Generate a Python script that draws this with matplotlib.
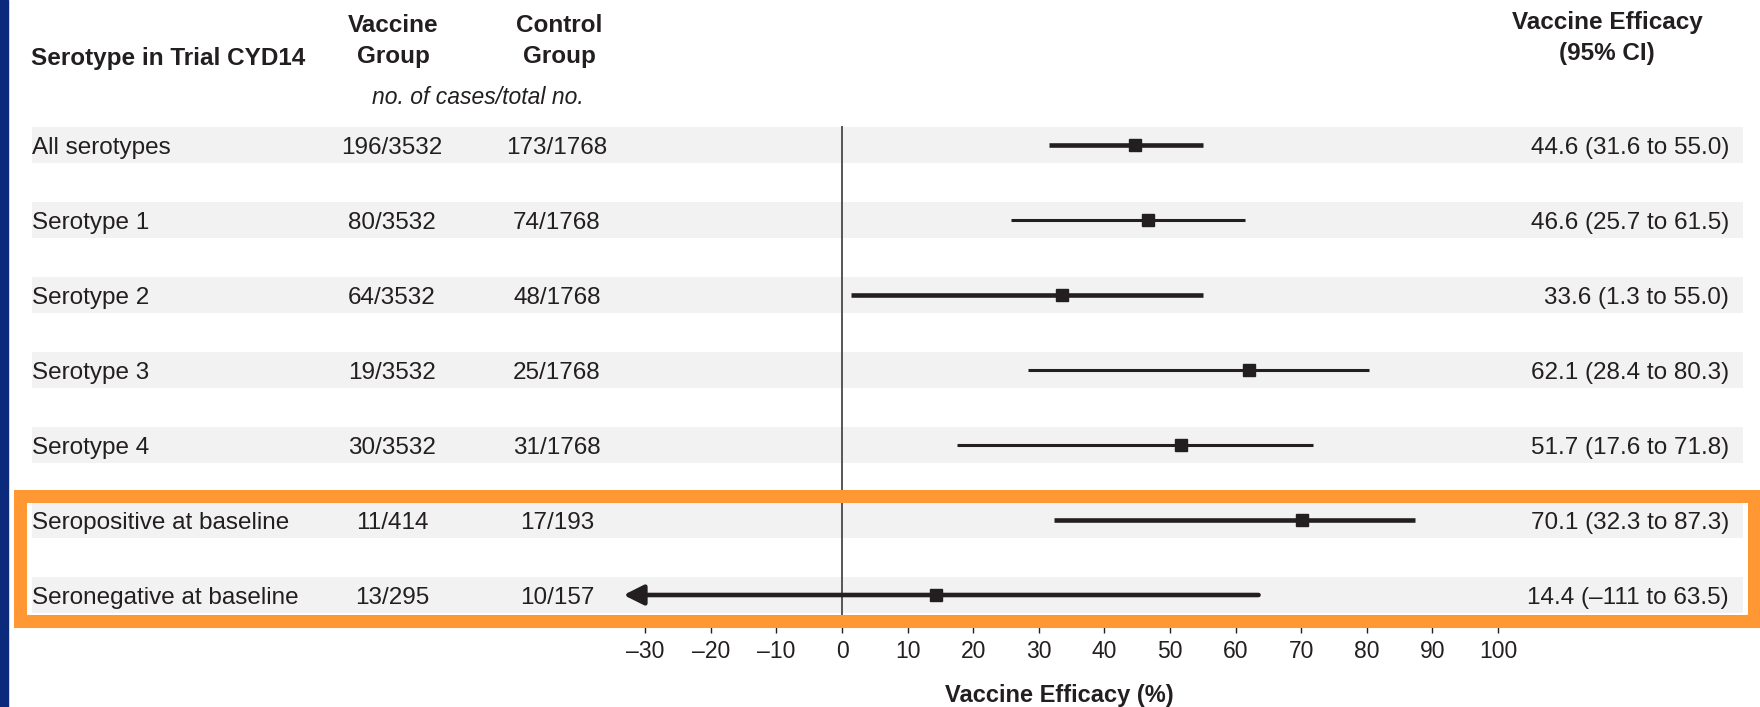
import numpy as np
import matplotlib
matplotlib.use("Agg")
import matplotlib.pyplot as plt
from matplotlib.patches import Rectangle
from matplotlib.transforms import blended_transform_factory
from matplotlib.ticker import FuncFormatter

plt.rcParams['font.family'] = ['Liberation Sans', 'DejaVu Sans']

# data
labels = ["All serotypes", "Serotype 1", "Serotype 2", "Serotype 3", "Serotype 4",
          "Seropositive at baseline", "Seronegative at baseline"]
vaccine_cases = ["196/3532", "80/3532", "64/3532", "19/3532", "30/3532", "11/414", "13/295"]
control_cases = ["173/1768", "74/1768", "48/1768", "25/1768", "31/1768", "17/193", "10/157"]
efficacy = [44.6, 46.6, 33.6, 62.1, 51.7, 70.1, 14.4]
ci_low = [31.6, 25.7, 1.3, 28.4, 17.6, 32.3, -111]
ci_high = [55.0, 61.5, 55.0, 80.3, 71.8, 87.3, 63.5]
ticks = list(range(-30, 101, 10))

# styling
ink = '#231f20'
band = '#f2f2f2'
orange = '#ff9832'
navy = '#0b2a7c'
thick = [True, False, True, False, False, True, True]
W, H = 1760, 707
X_MIN, X_MAX = -37, 103.4
ARROW_TIP = -33.3
FS = 17.5
TXT_DY = 0.045  # nudge row text down a little so it sits mid-band


def fx(x):
    return x / W


def fy(y):
    return 1 - y / H


def fmt(v):
    s = f"{v:.1f}" if abs(v) < 100 else f"{v:.0f}"
    return s.replace("-", "\u2013")


fig = plt.figure(figsize=(W / 100, H / 100), dpi=100)

# rows: first at 145 px from top, 75 px apart
row0, step = 145, 75
ax_top, ax_bot = 126, 627
px_per_unit = 6.56
zero_px = 842
left_px = zero_px + X_MIN * px_per_unit
right_px = zero_px + X_MAX * px_per_unit
ax = fig.add_axes([fx(left_px), fy(ax_bot), (right_px - left_px) / W, (ax_bot - ax_top) / H])
ax.set_facecolor('none')
ax.set_xlim(X_MIN, X_MAX)
ax.set_ylim((ax_bot - row0) / step, (ax_top - row0) / step)

tr = blended_transform_factory(fig.transFigure, ax.transData)

# slide decoration
fig.add_artist(Rectangle((0, 0), fx(8), 1, transform=fig.transFigure, color=navy, zorder=-2))

ax.axvline(0, color='#555555', lw=1.4, zorder=1)

for i, lab in enumerate(labels):
    fig.add_artist(Rectangle((fx(32), i - 0.245), fx(1743) - fx(32), 0.49,
                             transform=tr, color=band, zorder=-1, lw=0))
    lw = 3.3 if thick[i] else 2.2
    if ci_low[i] < ARROW_TIP:
        ax.annotate('', xy=(ARROW_TIP, i), xytext=(ci_high[i], i),
                    arrowprops=dict(arrowstyle='-|>,head_length=0.6,head_width=0.3',
                                    mutation_scale=20, lw=lw, color=ink,
                                    shrinkA=0, shrinkB=0), zorder=2)
    else:
        ax.hlines(i, ci_low[i], ci_high[i], color=ink, lw=lw, zorder=2)
    ax.plot(efficacy[i], i, marker='s', ms=8, color=ink, zorder=3)

    ty = i + TXT_DY
    ax.text(fx(32), ty, lab, transform=tr, ha='left', va='center', fontsize=FS, color=ink)
    ax.text(fx(392), ty, vaccine_cases[i], transform=tr, ha='center', va='center',
            fontsize=FS, color=ink)
    ax.text(fx(557), ty, control_cases[i], transform=tr, ha='center', va='center',
            fontsize=FS, color=ink)
    ci_txt = f"{fmt(efficacy[i])} ({fmt(ci_low[i])} to {fmt(ci_high[i])})"
    ax.text(fx(1729), ty, ci_txt, transform=tr, ha='right', va='center',
            fontsize=FS, color=ink)

# column headers
fig.text(fx(31), fy(58), "Serotype in Trial CYD14", ha='left', va='center',
         fontsize=FS, fontweight='bold', color=ink)
fig.text(fx(393), fy(41), "Vaccine\nGroup", ha='center', va='center', linespacing=1.4,
         fontsize=FS, fontweight='bold', color=ink)
fig.text(fx(559), fy(41), "Control\nGroup", ha='center', va='center', linespacing=1.4,
         fontsize=FS, fontweight='bold', color=ink)
fig.text(fx(478), fy(97), "no. of cases/total no.", ha='center', va='center',
         fontsize=16.5, style='italic', color=ink)
fig.text(fx(1607), fy(38), "Vaccine Efficacy\n(95% CI)", ha='center', va='center',
         linespacing=1.4, fontsize=FS, fontweight='bold', color=ink)

# highlight box round the baseline serostatus rows
fig.add_artist(Rectangle((fx(19.5), fy(620.5)), fx(1754) - fx(19.5), fy(496.5) - fy(620.5),
                         transform=fig.transFigure, fill=False, edgecolor=orange,
                         lw=9.4, zorder=5))

for side in ['left', 'right', 'top', 'bottom']:
    ax.spines[side].set_visible(False)
ax.set_yticks([])
ax.set_xticks(ticks)
ax.xaxis.set_major_formatter(FuncFormatter(lambda v, p: fmt(v).replace(".0", "")))
ax.tick_params(axis='x', length=4.5, width=1, color=ink, labelsize=16.5, labelcolor=ink, pad=5)
ax.set_xlabel("Vaccine Efficacy (%)", fontsize=17, fontweight='bold', color=ink, labelpad=15)

fig.savefig("out.png", dpi=100)
